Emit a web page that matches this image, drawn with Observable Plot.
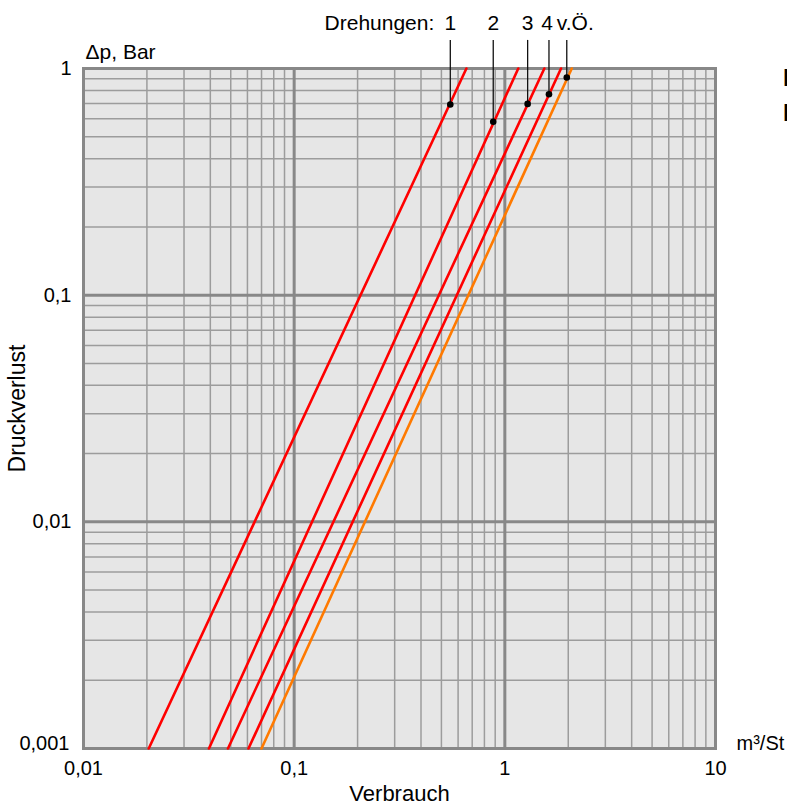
<!DOCTYPE html>
<html>
<head>
<meta charset="utf-8">
<script src="https://cdn.jsdelivr.net/npm/d3@7"></script>
<script src="https://cdn.jsdelivr.net/npm/@observablehq/plot@0.6"></script>
<style>
  html, body { margin: 0; padding: 0; background: #fff; overflow: hidden; }
  #chart svg { display: block; }
</style>
</head>
<body>
<div id="chart"></div>
<script>
// ---- data ----
const turnLabels   = ["1", "2", "3", "4", "v.Ö."];
const seriesColors = ["#ff0000", "#ff0000", "#ff0000", "#ff0000", "#ff7a00"];
const dpMin = 0.001;                       // Δp at the lower end of every line (Bar)
const dpMax = 1;                           // Δp at the upper end of every line (Bar)
const flowAtDpMin = [0.0204, 0.0394, 0.0485, 0.0607, 0.070];  // m³/St
const flowAtDpMax = [0.657, 1.158, 1.540, 1.848, 2.078];      // m³/St
const markerFlow  = [0.551, 0.881, 1.283, 1.620, 1.968];
const markerDp    = [0.694, 0.582, 0.698, 0.770, 0.913];
const leaderTopDp = 1.33;

const xTicks = [0.01, 0.1, 1, 10];
const yTicks = [0.001, 0.01, 0.1, 1];
const xMajorGrid = [0.1, 1];
const yMajorGrid = [0.01, 0.1];
const minorSteps = [2, 3, 4, 5, 6, 7, 8, 9];
const xDecades = [0.01, 0.1, 1];
const yDecades = [0.001, 0.01, 0.1];

const xTitle = "Verbrauch";
const yTitle = "Druckverlust";
const yUnit = "\u0394p, Bar";
const xUnit = "m³/St";
const turnsTitle = "Drehungen:";
const sideTexts = ["Durchflussdiagramm", "Nadelventil"];

// ---- build tables ----
const xMinor = xDecades.flatMap(d => minorSteps.map(s => +(d * s).toPrecision(3)));
const yMinor = yDecades.flatMap(d => minorSteps.map(s => +(d * s).toPrecision(3)));
const lineRows = turnLabels.flatMap((lab, i) => [
  {series: lab, color: seriesColors[i], flow: flowAtDpMin[i], dp: dpMin},
  {series: lab, color: seriesColors[i], flow: flowAtDpMax[i], dp: dpMax}
]);
const markers = turnLabels.map((lab, i) => ({label: lab, flow: markerFlow[i], dp: markerDp[i]}));
const fmt = d => String(d).replace(".", ",");

const gridMinor = "#9c9c9c";
const gridMajor = "#888888";

const chart = Plot.plot({
  width: 787,
  height: 805,
  marginLeft: 83,
  marginRight: 72,
  marginTop: 68,
  marginBottom: 57,
  x: {type: "log", domain: [0.01, 10]},
  y: {type: "log", domain: [0.001, 1]},
  color: {type: "identity"},
  style: {fontFamily: "'Liberation Sans', Arial, sans-serif", background: "#fff", overflow: "visible", color: "#000"},
  marks: [
    Plot.frame({fill: "#e6e6e6"}),
    Plot.ruleX(xMinor, {stroke: gridMinor, strokeWidth: 1.5}),
    Plot.ruleY(yMinor, {stroke: gridMinor, strokeWidth: 1.5}),
    Plot.ruleX(xMajorGrid, {stroke: gridMajor, strokeWidth: 3}),
    Plot.ruleY(yMajorGrid, {stroke: gridMajor, strokeWidth: 3}),
    Plot.frame({stroke: gridMajor, strokeWidth: 3}),
    Plot.line(lineRows, {x: "flow", y: "dp", z: "series", stroke: "color", strokeWidth: 2.6}),
    Plot.ruleX(markers, {x: "flow", y1: "dp", y2: leaderTopDp, stroke: "#111", strokeWidth: 1.3}),
    Plot.dot(markers, {x: "flow", y: "dp", r: 3.3, fill: "#000", stroke: null}),
    Plot.text(markers.slice(0, 3), {x: "flow", text: "label", frameAnchor: "top", dy: -45, lineAnchor: "middle", fontSize: 21, fill: "#000"}),
    Plot.text(markers.slice(3, 4), {x: "flow", text: "label", frameAnchor: "top", dy: -45, dx: -2, lineAnchor: "middle", fontSize: 21, fill: "#000"}),
    Plot.text(markers.slice(4), {x: "flow", text: "label", frameAnchor: "top", dy: -45, dx: -10, textAnchor: "start", lineAnchor: "middle", fontSize: 21, fill: "#000"}),
    Plot.text(markers.slice(0, 1), {x: "flow", text: () => turnsTitle, frameAnchor: "top", dy: -45, dx: -16, textAnchor: "end", lineAnchor: "middle", fontSize: 21, fill: "#000"}),
    Plot.axisX({ticks: xTicks, tickFormat: fmt, tickSize: 0, tickPadding: 12, fontSize: 20, label: null}),
    Plot.axisY({ticks: yTicks.slice(1), tickFormat: fmt, tickSize: 0, tickPadding: 12, fontSize: 20, label: null}),
    Plot.axisY({ticks: yTicks.slice(0, 1), tickFormat: fmt, tickSize: 0, tickPadding: 14, dy: -5, fontSize: 20, label: null}),
    Plot.text([xTitle], {frameAnchor: "bottom", dy: 45, lineAnchor: "middle", fontSize: 22, fill: "#000"}),
    Plot.text([yTitle], {frameAnchor: "left", dx: -66, rotate: -90, textAnchor: "middle", lineAnchor: "middle", fontSize: 23, fill: "#000"}),
    Plot.text([yUnit], {frameAnchor: "top-left", dx: 2, dy: -16, textAnchor: "start", lineAnchor: "middle", fontSize: 21, fill: "#000"}),
    Plot.text([xUnit], {frameAnchor: "bottom-right", dx: 21, dy: -5, textAnchor: "start", lineAnchor: "middle", fontSize: 20, fill: "#000"}),
    Plot.text(sideTexts.slice(0, 1), {frameAnchor: "top-right", dx: 67.5, dy: 10, textAnchor: "start", lineAnchor: "middle", fontSize: 24, fontWeight: "bold", fill: "#000"}),
    Plot.text(sideTexts.slice(1, 2), {frameAnchor: "top-right", dx: 67.5, dy: 45, textAnchor: "start", lineAnchor: "middle", fontSize: 24, fontWeight: "bold", fill: "#000"})
  ]
});
document.getElementById("chart").appendChild(chart);
</script>
</body>
</html>
